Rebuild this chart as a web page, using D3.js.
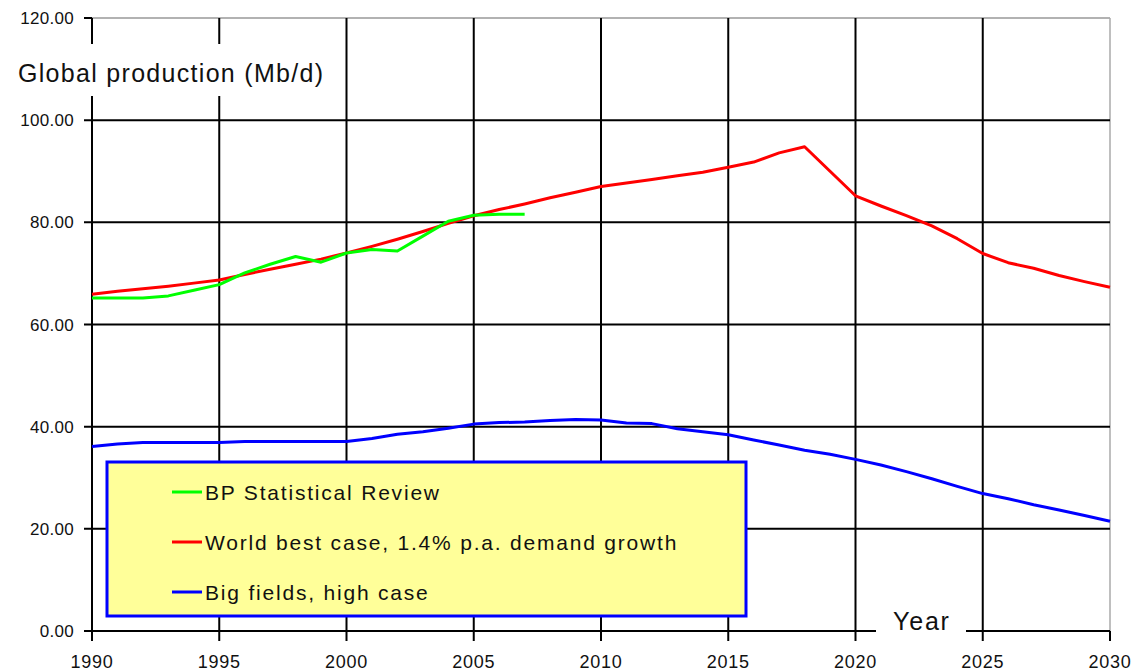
<html>
<head>
<script src="https://cdn.jsdelivr.net/npm/d3@7"></script>
<style>
  body { margin: 0; background: #fff; }
  text { font-family: "Liberation Sans", Arial, sans-serif; fill: #111; }
</style>
</head>
<body>
<script>
const width = 1140, height = 672;

// data
const bpYears = d3.range(1990, 2008);
const bpValues = [65.2, 65.2, 65.2, 65.6, 66.7, 67.8, 70.1, 71.8, 73.3, 72.2, 74.0, 74.7, 74.4, 77.3, 80.2, 81.4, 81.6, 81.6];

const worldYears = d3.range(1990, 2031);
const worldValues = [65.9, 66.5, 67.0, 67.5, 68.1, 68.7, 69.8, 70.8, 71.8, 72.8,
  74.0, 75.3, 76.7, 78.2, 79.8, 81.3, 82.5, 83.6, 84.8, 85.9,
  87.0, 87.7, 88.4, 89.1, 89.8, 90.8, 91.8, 93.6, 94.8, 90.0,
  85.2, 83.2, 81.3, 79.3, 76.8, 73.9, 72.1, 71.0, 69.6, 68.4, 67.3];

const bigYears = d3.range(1990, 2031);
const bigValues = [36.1, 36.6, 36.9, 36.9, 36.9, 36.9, 37.1, 37.1, 37.1, 37.1,
  37.1, 37.7, 38.5, 39.0, 39.7, 40.5, 40.8, 40.9, 41.2, 41.4,
  41.3, 40.7, 40.6, 39.6, 39.0, 38.4, 37.4, 36.4, 35.4, 34.6,
  33.6, 32.5, 31.2, 29.8, 28.3, 26.9, 25.9, 24.7, 23.7, 22.6, 21.5];

const xTicks = [1990, 1995, 2000, 2005, 2010, 2015, 2020, 2025, 2030];
const yTicks = [0, 20, 40, 60, 80, 100, 120];
const seriesNames = ["BP Statistical Review", "World best case, 1.4% p.a. demand growth", "Big fields, high case"];
const seriesColors = ["#00ff00", "#ff0000", "#0000ff"];

const x = d3.scaleLinear().domain([1990, 2030]).range([92, 1110]);
const y = d3.scaleLinear().domain([0, 120]).range([631, 18]);

const svg = d3.select("body").append("svg")
  .attr("width", width)
  .attr("height", height);

// top and right border
svg.append("line").attr("x1", 92).attr("x2", 1110).attr("y1", y(120)).attr("y2", y(120))
  .attr("stroke", "#999").attr("stroke-width", 1.5);
svg.append("line").attr("x1", 1110).attr("x2", 1110).attr("y1", 18).attr("y2", 641)
  .attr("stroke", "#aaa").attr("stroke-width", 1.5);

// horizontal grid + y ticks
svg.append("g").selectAll("line")
  .data(yTicks.filter(d => d > 0 && d < 120))
  .join("line")
  .attr("x1", 84).attr("x2", 1110)
  .attr("y1", d => y(d)).attr("y2", d => y(d))
  .attr("stroke", "#000").attr("stroke-width", 2);

// vertical grid
svg.append("g").selectAll("line")
  .data(xTicks.filter(d => d < 2030))
  .join("line")
  .attr("x1", d => x(d)).attr("x2", d => x(d))
  .attr("y1", 18).attr("y2", 641)
  .attr("stroke", "#000").attr("stroke-width", 2);

// x axis line
svg.append("line").attr("x1", 84).attr("x2", 1110).attr("y1", y(0)).attr("y2", y(0))
  .attr("stroke", "#000").attr("stroke-width", 2);
svg.append("line").attr("x1", 84).attr("x2", 92).attr("y1", y(120)).attr("y2", y(120))
  .attr("stroke", "#000").attr("stroke-width", 2);
svg.append("line").attr("x1", 1110).attr("x2", 1110).attr("y1", 631).attr("y2", 641)
  .attr("stroke", "#000").attr("stroke-width", 2);

// tick labels
svg.append("g").selectAll("text")
  .data(yTicks)
  .join("text")
  .attr("x", 74).attr("y", d => y(d) + 6)
  .attr("text-anchor", "end")
  .attr("font-size", 17)
  .attr("letter-spacing", 0.3)
  .text(d => d.toFixed(2));

svg.append("g").selectAll("text")
  .data(xTicks)
  .join("text")
  .attr("x", d => x(d)).attr("y", 668)
  .attr("text-anchor", "middle")
  .attr("font-size", 18)
  .attr("letter-spacing", 0.8)
  .text(d => d);

// series lines
const line = d3.line().x(d => x(d[0])).y(d => y(d[1]));
const series = [
  d3.zip(worldYears, worldValues),
  d3.zip(bigYears, bigValues),
  d3.zip(bpYears, bpValues)
];
const colorsInOrder = [seriesColors[1], seriesColors[2], seriesColors[0]];
svg.append("g").selectAll("path")
  .data(series)
  .join("path")
  .attr("d", line)
  .attr("fill", "none")
  .attr("stroke", (d, i) => colorsInOrder[i])
  .attr("stroke-width", 3)
  .attr("stroke-linejoin", "round");

// axis titles with white backgrounds
svg.append("rect").attr("x", 10).attr("y", 44).attr("width", 326).attr("height", 52).attr("fill", "#fff");
svg.append("text").attr("x", 18).attr("y", 82).attr("font-size", 25).attr("letter-spacing", 1.3)
  .text("Global production (Mb/d)");

svg.append("rect").attr("x", 876).attr("y", 598).attr("width", 90).attr("height", 40).attr("fill", "#fff");
svg.append("text").attr("x", 893).attr("y", 630).attr("font-size", 25).attr("letter-spacing", 1.8).text("Year");

// legend
const legend = svg.append("g");
legend.append("rect")
  .attr("x", 107).attr("y", 462).attr("width", 639).attr("height", 154)
  .attr("fill", "#ffff99").attr("stroke", "#0000ff").attr("stroke-width", 3);
const items = legend.selectAll("g.item")
  .data(seriesNames)
  .join("g")
  .attr("class", "item")
  .attr("transform", (d, i) => `translate(0, ${492 + i * 50})`);
items.append("line")
  .attr("x1", 172).attr("x2", 202).attr("y1", 0).attr("y2", 0)
  .attr("stroke", (d, i) => seriesColors[i]).attr("stroke-width", 3);
items.append("text")
  .attr("x", 205).attr("y", 8)
  .attr("font-size", 21)
  .attr("letter-spacing", 1.8)
  .text(d => d);
</script>
</body>
</html>
